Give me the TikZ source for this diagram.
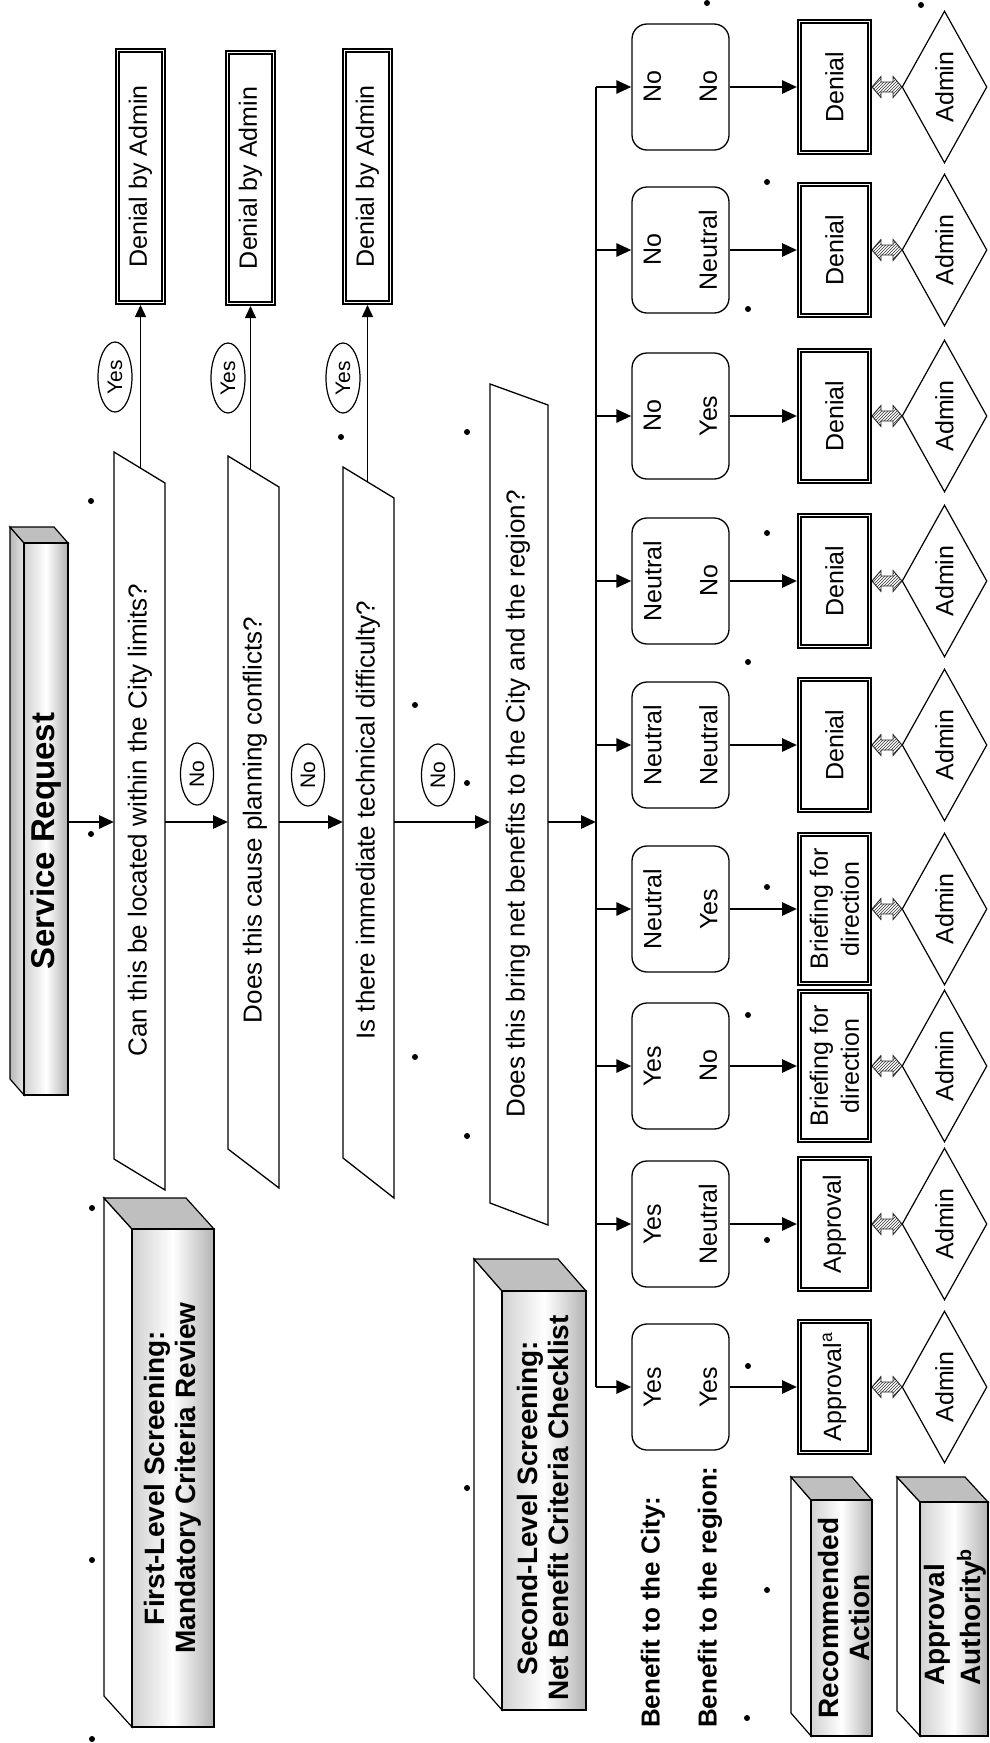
\documentclass[tikz,border=0pt]{standalone}
\usepackage{fontspec}
\setmainfont{Liberation Sans}
\usetikzlibrary{arrows.meta,shapes.geometric,patterns,calc}
\begin{document}
\begin{tikzpicture}[x=1pt,y=1pt]
\tikzset{
  flow/.style={line width=2.8pt, -{Triangle[length=15pt,width=13pt]}},
  yesline/.style={line width=1.4pt, -{Triangle[length=12pt,width=11pt]}},
  outline/.style={draw, line width=1.3pt},
  tq/.style={rotate=90, inner sep=0pt, font=\fontsize{26}{31}\selectfont},
  tsm/.style={rotate=90, inner sep=0pt, align=center, font=\fontsize{25}{31}\selectfont},
  tlab/.style={rotate=90, inner sep=0pt, font=\fontsize{21}{24}\selectfont},
  thead/.style={rotate=90, inner sep=0pt, align=center, font=\bfseries\fontsize{28}{31}\selectfont},
  oval/.style={ellipse, draw, line width=1.2pt, inner sep=0pt},
  outbox/.style={rectangle, draw, line width=1.6pt, double, double distance=1.8pt, inner sep=0pt, outer sep=2.5pt},
  rbox/.style={rectangle, draw, line width=1.3pt, rounded corners=15pt, minimum width=97pt, minimum height=126pt, inner sep=0pt},
  adm/.style={diamond, draw, line width=1.2pt, minimum width=85pt, minimum height=152pt, inner sep=0pt},
  anchorbox/.style={rectangle, inner sep=0pt, outer sep=0pt, minimum height=600pt},
  hatcharrow/.style={draw=black!85, line width=0.9pt, pattern=north east lines, pattern color=black!80},
  frontface/.style={draw, line width=1.2pt, left color=black!18, right color=black!30, middle color=white},
  topface/.style={draw, line width=1.2pt, fill=black!25},
}
\useasboundingbox (0,0) rectangle (989,-1743);

% ---------- 3D header boxes ----------
% Service Request
\draw[line width=1.2pt, left color=black!28, right color=black!10] (10,-527) -- (24,-543) -- (24,-1095) -- (10,-1079) -- cycle;
\draw[topface] (10,-527) -- (54,-527) -- (68,-543) -- (24,-543) -- cycle;
\node[frontface, minimum width=44pt, minimum height=552pt, inner sep=0pt] (sr) at (46,-819) {};
\node[thead, font=\bfseries\fontsize{33}{38}\selectfont] (srt) at (46,-841) {Service Request};

% First-Level Screening
\draw[line width=1.2pt, fill=white] (104,-1198) -- (132,-1229) -- (132,-1727) -- (104,-1696) -- cycle;
\draw[topface] (104,-1198) -- (186,-1198) -- (214,-1229) -- (132,-1229) -- cycle;
\node[frontface, minimum width=82pt, minimum height=498pt, inner sep=0pt] (fl) at (173,-1478) {};
\node[thead] (flt) at (fl) {First-Level Screening:\\Mandatory Criteria Review};

% Second-Level Screening
\draw[line width=1.2pt, fill=white] (474,-1259) -- (502,-1291) -- (502,-1710) -- (474,-1678) -- cycle;
\draw[topface] (474,-1259) -- (558,-1259) -- (586,-1291) -- (502,-1291) -- cycle;
\node[frontface, minimum width=84pt, minimum height=419pt, inner sep=0pt] (sl) at (544,-1500.5) {};
\node[thead] (slt) at (543,-1508) {Second-Level Screening:\\Net Benefit Criteria Checklist};

% Recommended Action
\draw[line width=1.2pt, fill=white] (791,-1477) -- (811,-1500) -- (811,-1736) -- (791,-1713) -- cycle;
\draw[topface] (791,-1477) -- (852,-1477) -- (872,-1500) -- (811,-1500) -- cycle;
\node[frontface, minimum width=61pt, minimum height=236pt, inner sep=0pt] (ra) at (841.5,-1618) {};
\node[thead] (rat) at (844,-1618) {Recommended\\Action};

% Approval Authority
\draw[line width=1.2pt, fill=white] (897,-1477) -- (920,-1502) -- (920,-1736) -- (897,-1711) -- cycle;
\draw[topface] (897,-1477) -- (965,-1477) -- (988,-1502) -- (920,-1502) -- cycle;
\node[frontface, minimum width=68pt, minimum height=234pt, inner sep=0pt] (aa) at (954,-1619) {};
\node[thead, align=left, font=\bfseries\fontsize{28}{36}\selectfont] (aat) at (955,-1617) {Approval\\Authority\textsuperscript{b}};

% Benefit labels
\node[tq, font=\bfseries\fontsize{26}{30}\selectfont, anchor=west] (bc) at (653,-1728) {Benefit to the City:};
\node[tq, font=\bfseries\fontsize{26}{30}\selectfont, anchor=west] (br) at (710,-1728) {Benefit to the region:};

% ---------- First-level questions ----------
\draw[outline] (114,-452) -- (165,-483) -- (165,-1190) -- (114,-1159) -- cycle;
\draw[outline] (228,-456) -- (279,-487) -- (279,-1188) -- (228,-1149) -- cycle;
\draw[outline] (343,-467) -- (394,-498) -- (394,-1198) -- (343,-1158) -- cycle;
\draw[outline] (490,-384) -- (548,-405) -- (548,-1225) -- (490,-1203) -- cycle;

\node[anchorbox, minimum width=51pt] (q1) at (139.5,-822) {};
\node[anchorbox, minimum width=51pt] (q2) at (253.5,-822) {};
\node[anchorbox, minimum width=51pt] (q3) at (368.5,-822) {};
\node[anchorbox, minimum width=58pt] (q4) at (519,-822) {};

\node[tq] (q1t) at (140,-820) {Can this be located within the City limits?};
\node[tq] (q2t) at (255,-820) {Does this cause planning conflicts?};
\node[tq] (q3t) at (368,-820) {Is there immediate technical difficulty?};
\node[tq] (q4t) at (518,-804) {Does this bring net benefits to the City and the region?};

% Denial by Admin boxes
\node[outbox, minimum width=46pt, minimum height=252pt] (d1) at (140.5,-176.5) {};
\node[outbox, minimum width=46pt, minimum height=251pt] (d2) at (250.5,-178) {};
\node[outbox, minimum width=46pt, minimum height=252pt] (d3) at (367.5,-176.5) {};
\foreach \k in {1,2,3} {\node[tsm] at (d\k) {Denial by Admin};}

% Yes branches
\coordinate (t1) at (140.5,-468);
\coordinate (t2) at (250.5,-470);
\coordinate (t3) at (367.5,-482);
\foreach \k in {1,2,3} {\draw[yesline] (t\k) -- (t\k |- d\k.south);}
\node[oval, minimum width=34pt, minimum height=70pt] (y1) at (115,-377) {};
\node[oval, minimum width=34pt, minimum height=70pt] (y2) at (228,-378) {};
\node[oval, minimum width=34pt, minimum height=70pt] (y3) at (343,-378) {};
\foreach \k in {1,2,3} {\node[tlab] at (y\k) {Yes};}

% No labels
\node[oval, minimum width=33pt, minimum height=62pt] (n1) at (197,-774) {};
\node[oval, minimum width=33pt, minimum height=62pt] (n2) at (308,-775) {};
\node[oval, minimum width=33pt, minimum height=62pt] (n3) at (438,-775) {};
\foreach \k in {1,2,3} {\node[tlab] at (n\k) {No};}

% main flow
\coordinate (bm) at (596,-822);
\draw[flow] (sr.east |- q1.west) -- (q1.west);
\draw[flow] (q1.east) -- (q2.west);
\draw[flow] (q2.east) -- (q3.west);
\draw[flow] (q3.east) -- (q4.west);
\draw[flow] (q4.east) -- (bm);

% ---------- Second-level columns ----------
\foreach \i/\y/\a/\b/\o/\oh in {0/87/No/No/Denial/131, 1/250/No/Neutral/Denial/131, 2/416/No/Yes/Denial/131, 3/581/Neutral/No/Denial/131, 4/745/Neutral/Neutral/Denial/131, 5/909/Neutral/Yes/{Briefing for\\direction}/149, 6/1066/Yes/No/{Briefing for\\direction}/149, 7/1224/Yes/Neutral/Approval/131, 8/1387/Yes/Yes/{Approval\textsuperscript{a}}/131} {
  \coordinate (b\i) at (596,-\y);
  \node[rbox] (c\i) at (680.5,-\y) {};
  \node[tsm, font=\fontsize{25}{56}\selectfont] at (c\i) {\a\\\b};
  \node[outbox, minimum width=70pt, minimum height=\oh pt] (o\i) at (834.5,-\y) {};
  \node[tsm] at (o\i) {\o};
  \node[adm] (a\i) at (944.5,-\y) {};
  \node[tsm] at (a\i) {Admin};
  \draw[flow] (b\i) -- (c\i.west);
  \draw[flow] (c\i.east) -- (o\i.west);
  \draw[hatcharrow] (o\i.east) -- ++(9,10.5) -- ++(0,-5.5) -- ++(12,0) -- ++(0,5.5) -- ++(9,-10.5) -- ++(-9,-10.5) -- ++(0,5.5) -- ++(-12,0) -- ++(0,-5.5) -- cycle;
}
\draw[line width=2.8pt] (b0) -- (b8);

% ---------- stray dots ----------
\foreach \p in {(91,-501),(91,-834),(92,-1208),(92,-1560),(92,-1739),(341,-437),(415,-705),(415,-1057),(467,-432),(467,-783),(467,-1136),(467,-1488),(707,-3),(921,-5),(767,-182),(748,-309),(767,-533),(748,-662),(767,-887),(748,-1015),(767,-1240),(748,-1366),(767,-1590),(747,-1718)}
  {\fill \p circle (3pt);}
\end{tikzpicture}
\end{document}
